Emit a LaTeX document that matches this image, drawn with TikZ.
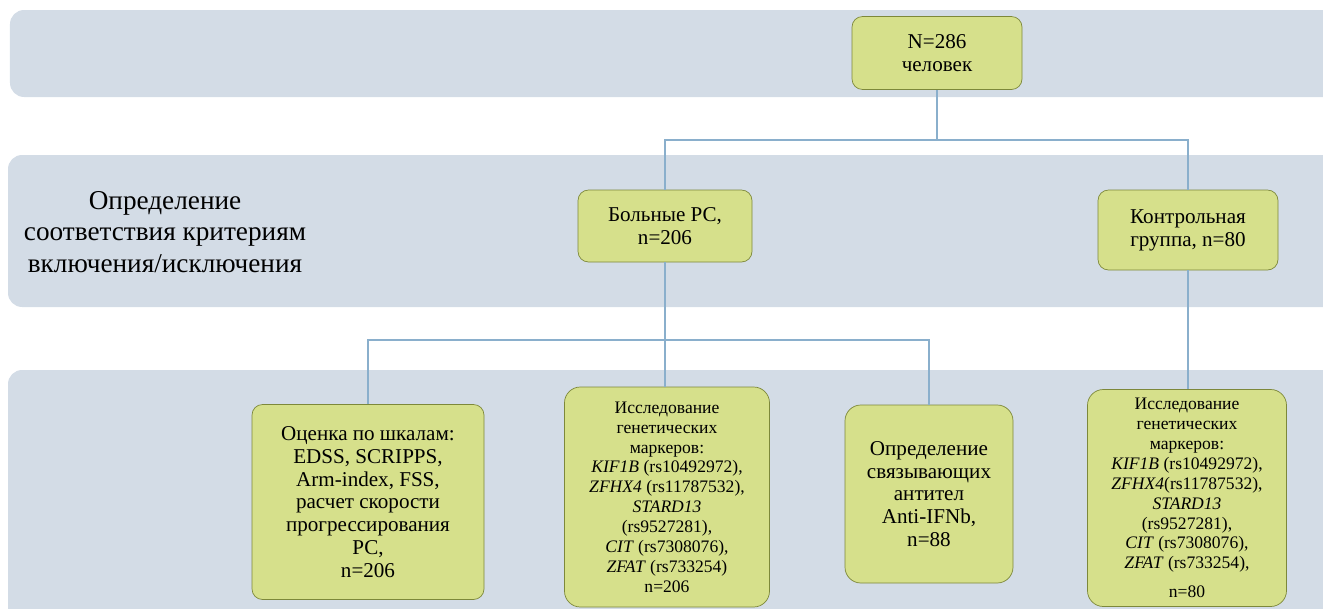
\documentclass[tikz,border=0pt]{standalone}
\usepackage{fontspec}
\setmainfont{Liberation Serif}
\usetikzlibrary{positioning}
\definecolor{bandfill}{HTML}{D3DCE6}
\definecolor{boxfill}{HTML}{D6E08B}
\definecolor{boxline}{HTML}{7D883A}
\definecolor{connline}{HTML}{8AAFCC}
\tikzset{
    band/.style = {fill=bandfill, draw=none, rounded corners=8pt},
    stage/.style = {rectangle, rounded corners=6pt, draw=boxline, fill=boxfill, align=center, font=\fontsize{12}{13}\selectfont, inner sep=2pt},
    smallstage/.style = {stage, rounded corners=9pt, font=\fontsize{10}{11.3}\selectfont},
    conn/.style = {draw=connline, line width=0.7pt}
}
\begin{document}
\begin{tikzpicture}

\clip (0,0) rectangle (26.46,-12.18);

% background bands
\fill[band] (0.2,-0.2) rectangle (27,-1.94);
\fill[band] (0.16,-3.1) rectangle (27,-6.14);
\fill[band] (0.16,-7.4) rectangle (27,-13);

\node[align=center, font=\fontsize{15.5}{17.9}\selectfont] (crit) at (3.3,-4.64) {Определение\\соответствия критериям\\включения/исключения};

% boxes
\node (total) [stage, minimum width=3.4cm, minimum height=1.46cm] at (18.74,-1.06) {N=286\\человек};
\node (ill) [stage, minimum width=3.48cm, minimum height=1.44cm] at (13.3,-4.52) {Больные РС,\\n=206};
\node (ctrl) [stage, minimum width=3.6cm, minimum height=1.6cm] at (23.76,-4.6) {Контрольная\\группа, n=80};

\node (scales) [stage, minimum width=4.64cm, minimum height=3.9cm] at (7.36,-10.04) {Оценка по шкалам:\\EDSS, SCRIPPS,\\Arm-index, FSS,\\расчет скорости\\прогрессирования\\РС,\\n=206};
\node (gen1) [smallstage, minimum width=4.1cm, minimum height=4.4cm] at (13.34,-9.94) {Исследование\\генетических\\маркеров:\\\textit{KIF1B} (rs10492972),\\\textit{ZFHX4} (rs11787532),\\\textit{STARD13}\\(rs9527281),\\\textit{CIT} (rs7308076),\\\textit{ZFAT} (rs733254)\\n=206};
\node (antib) [stage, rounded corners=9pt, minimum width=3.36cm, minimum height=3.56cm] at (18.58,-9.88) {Определение\\связывающих\\антител\\Anti-IFNb,\\n=88};
\node (gen2) [smallstage, minimum width=3.98cm, minimum height=4.34cm] at (23.74,-9.96) {Исследование\\генетических\\маркеров:\\\textit{KIF1B} (rs10492972),\\\textit{ZFHX4}(rs11787532),\\\textit{STARD13}\\(rs9527281),\\\textit{CIT} (rs7308076),\\\textit{ZFAT} (rs733254),\\[5pt]n=80};

% connectors
\coordinate (split1) at (18.74,-2.8);
\coordinate (split2) at (13.3,-6.8);
\draw[conn] (total.south) -- (split1);
\draw[conn] (ill.north) |- (split1) -| (ctrl.north);
\draw[conn] (ill.south) -- (split2);
\draw[conn] (scales.north) |- (split2) -| (antib.north);
\draw[conn] (split2) -- (split2 |- gen1.north);
\draw[conn] (ctrl.south) -- (ctrl.south |- gen2.north);

\end{tikzpicture}
\end{document}
